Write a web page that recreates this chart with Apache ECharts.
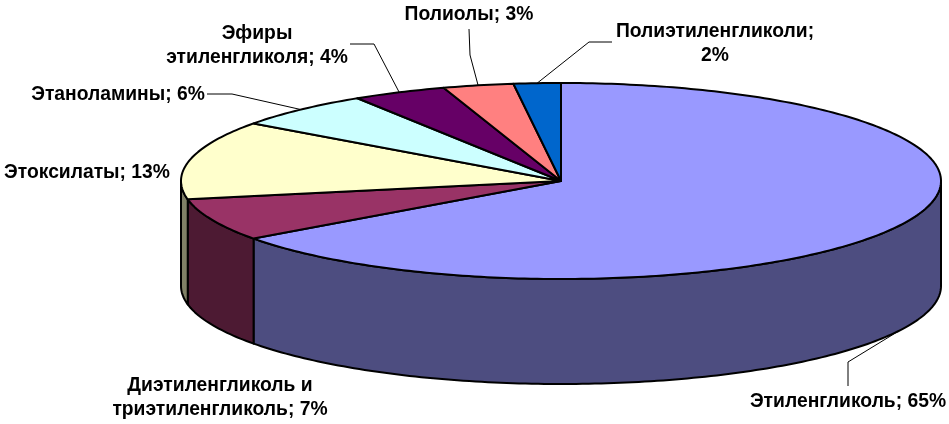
<!DOCTYPE html>
<html><head><meta charset="utf-8">
<style>html,body{margin:0;padding:0;background:#fff}#c{width:949px;height:424px}</style>
<script src="https://cdn.jsdelivr.net/npm/echarts@6/dist/echarts.min.js"></script>
</head><body><div id="c"></div>
<script>
const categories = ['Этиленгликоль','Диэтиленгликоль и\nтриэтиленгликоль','Этоксилаты','Этаноламины','Эфиры\nэтиленгликоля','Полиолы','Полиэтиленгликоли'];
const shares = [65,7,13,6,4,3,2];
const separators = ['; ','; ','; ','; ','; ','; ',';\n'];
const topColors = ['#9999FF','#993366','#FFFFCC','#CCFFFF','#660066','#FF8080','#0066CC'];
const sideColors = ['#4D4D80','#4D1A33','#808066','#668080','#330033','#804040','#003366'];

const CX=561, CY=181, RX=380, RY=98, DEPTH=105;
// label layout: anchor of the text (centre x, first line centre y), leader path from the label to the slice
const labelPos = [[848,402],[220,386],[87,173],[118,94.5],[257,33.5],[469,14.5],[715,32]];
const leaderPath = [[[848,386],[848,362]],null,null,[[207,94],[232,94]],[[350,44],[374,44]],[[469,29],[470,55]],[[612,42],[589,42]]];
const total = shares.reduce((a,b)=>a+b,0);
const cum = []; shares.reduce((a,b,i)=>(cum[i]=a,a+b),0);
const ang = v => v/total*2*Math.PI;
const pt = (a,dz=0)=>[CX+RX*Math.sin(a), CY-RY*Math.cos(a)+dz];
function arc(a0,a1,dz){const n=Math.max(2,Math.ceil((a1-a0)*60)),r=[];for(let k=0;k<=n;k++)r.push(pt(a0+(a1-a0)*k/n,dz));return r;}
const stroke={stroke:'#000',lineWidth:2,lineJoin:'round'};

function renderLeader(p,api){
  const i=p.dataIndex, path=leaderPath[i];
  if(!path) return {type:'group',children:[]};
  const mid=ang(cum[i]+shares[i]/2), front=Math.cos(mid)<0;
  return {type:'polyline',silent:true,shape:{points:path.concat([pt(mid,front?DEPTH:0)])},style:{stroke:'#000',lineWidth:1,fill:null}};
}
function renderSide(p,api){
  const i=p.dataIndex, a0=Math.max(ang(cum[i]),Math.PI/2), a1=Math.min(ang(cum[i]+shares[i]),Math.PI*1.5);
  if(a1<=a0) return {type:'group',children:[]};
  const pts=arc(a0,a1,0).concat(arc(a0,a1,DEPTH).reverse());
  return {type:'polygon',shape:{points:pts},style:Object.assign({fill:sideColors[i]},stroke)};
}
function renderTop(p,api){
  const i=p.dataIndex, a0=ang(cum[i]), a1=ang(cum[i]+api.value(0));
  return {type:'polygon',shape:{points:[[CX,CY]].concat(arc(a0,a1,0))},style:Object.assign({fill:topColors[i]},stroke)};
}
function renderLabel(p,api){
  const i=p.dataIndex, q=labelPos[i];
  return {type:'text',silent:true,x:q[0],y:q[1]-12,style:{
    text:categories[i]+separators[i]+shares[i]+'%',x:0,y:0,align:'center',verticalAlign:'top',
    font:'bold 19.3px "Liberation Sans", Arial, sans-serif',lineHeight:24,fill:'#000'}};
}
const vals=shares.map(v=>[v]);
const chart=echarts.init(document.getElementById('c'),null,{renderer:'canvas'});
chart.setOption({
  backgroundColor:'#fff',animation:false,tooltip:{show:false},
  series:[
    {type:'custom',coordinateSystem:'none',z:1,data:vals,renderItem:renderLeader},
    {type:'custom',coordinateSystem:'none',z:2,data:vals,renderItem:renderSide},
    {type:'custom',coordinateSystem:'none',z:3,data:vals,renderItem:renderTop},
    {type:'custom',coordinateSystem:'none',z:4,data:vals,renderItem:renderLabel}
  ]
});
</script></body></html>
